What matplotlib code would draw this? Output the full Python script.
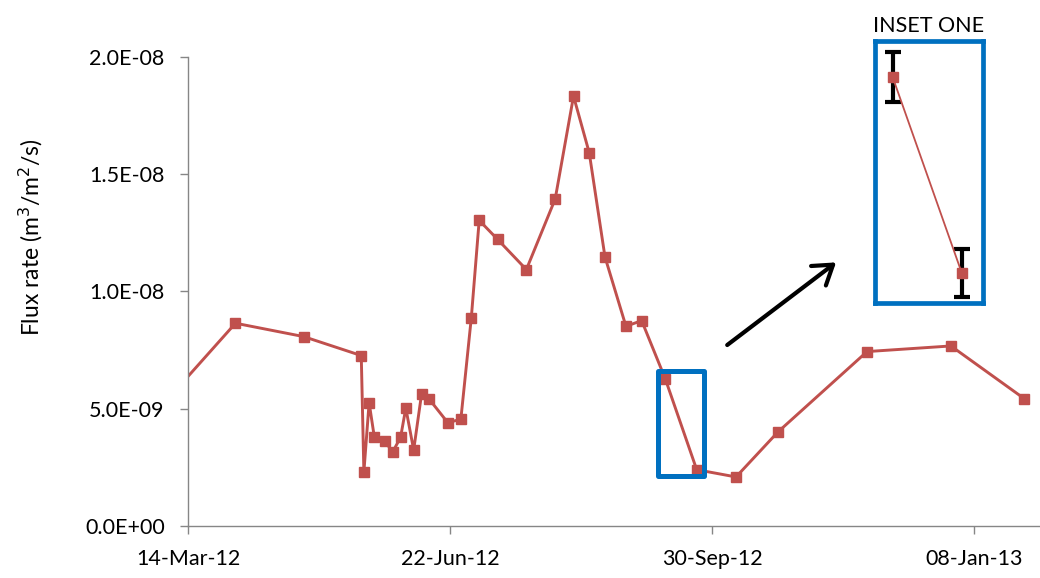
import pandas as pd
import matplotlib
matplotlib.use("Agg")
import matplotlib.pyplot as plt
import matplotlib.dates as mdates
from matplotlib.patches import Rectangle, FancyArrowPatch

plt.rcParams["font.family"] = ["Lato", "DejaVu Sans"]

# sampling dates and measured flux rates (m3/m2/s)
dates = ["2012-02-20", "2012-04-01", "2012-04-27", "2012-05-19", "2012-05-20",
         "2012-05-22", "2012-05-24", "2012-05-28", "2012-05-31", "2012-06-03",
         "2012-06-05", "2012-06-08", "2012-06-11", "2012-06-14", "2012-06-21",
         "2012-06-26", "2012-06-30", "2012-07-03", "2012-07-10", "2012-07-21",
         "2012-08-01", "2012-08-08", "2012-08-14", "2012-08-20", "2012-08-28",
         "2012-09-03", "2012-09-12", "2012-09-24", "2012-10-09", "2012-10-25",
         "2012-11-28", "2012-12-30", "2013-01-27"]
flux = [3.50, 8.64, 8.07, 7.26, 2.29,
        5.25, 3.77, 3.60, 3.15, 3.77,
        5.02, 3.23, 5.61, 5.39, 4.40,
        4.54, 8.88, 13.03, 12.22, 10.93,
        13.94, 18.33, 15.91, 11.47, 8.51,
        8.75, 6.27, 2.39, 2.08, 4.00,
        7.43, 7.67, 5.42]
flux = [v * 1e-9 for v in flux]

# the two points shown in the inset, with their error
inset_dates = ["2012-09-12", "2012-09-24"]
inset_flux = [6.27e-9, 2.39e-9]
inset_err = [0.5e-9, 0.48e-9]

x_start, x_end = "2012-03-14", "2013-02-02"
tick_dates = ["2012-03-14", "2012-06-22", "2012-09-30", "2013-01-08"]
y_ticks = [0, 5e-9, 1e-8, 1.5e-8, 2e-8]
y_labels = ["0.0E+00", "5.0E-09", "1.0E-08", "1.5E-08", "2.0E-08"]

red = "#C0504D"
blue = "#0070C0"
grey = "#868686"

fig = plt.figure(figsize=(10.4, 5.78), dpi=100)
ax = fig.add_axes([188.3 / 1040, 52.3 / 578, 1 - 188.3 / 1040, 468.7 / 578])

x = mdates.date2num(pd.to_datetime(dates))
ax.plot(x, flux, color=red, lw=2.1, marker="s", ms=7, mec=red, mfc=red)

ax.set_xlim(mdates.date2num(pd.Timestamp(x_start)), mdates.date2num(pd.Timestamp(x_end)))
ax.set_ylim(0, 2e-8)
ax.set_xticks(mdates.date2num(pd.to_datetime(tick_dates)))
ax.set_xticklabels([pd.Timestamp(d).strftime("%d-%b-%y") for d in tick_dates])
ax.set_yticks(y_ticks)
ax.set_yticklabels(y_labels)
ax.tick_params(labelsize=15.5, length=6, width=1, color=grey, pad=11)
ax.tick_params(axis="x", pad=11)
for s in ["top", "right"]:
    ax.spines[s].set_visible(False)
for s in ["left", "bottom"]:
    ax.spines[s].set_color(grey)
    ax.spines[s].set_linewidth(1)

fig.text(31 / 1040, 1 - 237 / 578, "Flux rate (m$^3$/m$^2$/s)", rotation=90,
         ha="center", va="center", fontsize=16.5)

# blue box around the highlighted segment
ix = mdates.date2num(pd.to_datetime(inset_dates))
box_x0 = ix[0] - 2.9
box_x1 = ix[1] + 2.6
box_y0 = inset_flux[1] - 0.25e-9
box_y1 = inset_flux[0] + 0.31e-9
ax.add_patch(Rectangle((box_x0, box_y0), box_x1 - box_x0, box_y1 - box_y0,
                       fill=False, ec=blue, lw=3.6, joinstyle="round", zorder=5))

# arrow pointing to the inset
fig.patches.append(FancyArrowPatch(
    (725 / 1040, 1 - 346.7 / 578), (838.3 / 1040, 1 - 260.7 / 578),
    transform=fig.transFigure, arrowstyle="->,head_length=0.6,head_width=0.4",
    mutation_scale=22, lw=3, color="black"))

# inset
axi = fig.add_axes([875 / 1040, 1 - 303 / 578, 108 / 1040, 262.5 / 578])
axi.errorbar(ix, inset_flux, yerr=inset_err, color=red, lw=1.3, marker="s", ms=7,
             mec=red, mfc=red, ecolor="black", elinewidth=3, capsize=6, capthick=3)
span = (ix[1] - ix[0]) / 0.639
axi.set_xlim(ix[0] - 0.164 * span, ix[0] - 0.164 * span + span)
yspan = (inset_flux[0] - inset_flux[1]) / 0.745
axi.set_ylim(inset_flux[1] - 0.115 * yspan, inset_flux[1] - 0.115 * yspan + yspan)
axi.set_xticks([])
axi.set_yticks([])
for s in axi.spines.values():
    s.set_color(blue)
    s.set_linewidth(3.4)
axi.set_title("INSET ONE", fontsize=15.5, pad=6)

fig.savefig("out.png", dpi=100)
